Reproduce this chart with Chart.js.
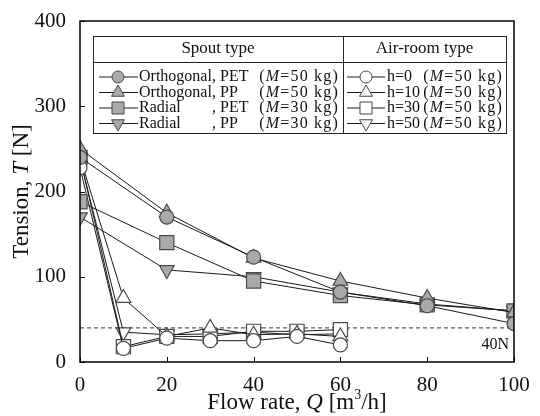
<!DOCTYPE html>
<html><head><meta charset="utf-8">
<script src="https://cdn.jsdelivr.net/npm/chart.js@4.4.0/dist/chart.umd.min.js"></script>
<style>html,body{margin:0;padding:0;background:#fff;}#wrap{width:540px;height:416px;}</style>
</head><body><div id="wrap"><canvas id="c" width="540" height="416"></canvas></div>
<script>
// ---- data ----
const spoutX = [0, 20, 40, 60, 80, 100];
const orthPET = [240, 170, 123, 82, 66, 45];
const orthPP  = [250, 175, 122, 95, 75, 58];
const radPET  = [188, 140, 95, 78, 67, 60];
const radPP   = [170, 108, 100, 82, 68, 60];
const airX = [0, 10, 20, 30, 40, 50, 60];
const h0  = [228, 16, 28, 25, 25, 30, 20];
const h10 = [240, 75, 30, 40, 32, 33, 30];
const h30 = [240, 18, 30, 30, 36, 36, 38];
const h50 = [238, 35, 32, 33, 35, 32, 33];
const xTicks = [0, 20, 40, 60, 80, 100];
const yTicks = [0, 100, 200, 300, 400];
const refLevel = 40;
const refLabel = '40N';
const spoutNames = ['Orthogonal', 'Orthogonal', 'Radial', 'Radial'];
const spoutMats = [', PET', ', PP', ', PET', ', PP'];
const spoutMass = ['50 kg', '50 kg', '30 kg', '30 kg'];
const airNames = ['h=0', 'h=10', 'h=30', 'h=50'];
const airMass = ['50 kg', '50 kg', '50 kg', '50 kg'];
const headers = ['Spout type', 'Air-room type'];

const SERIF = '"Liberation Serif", "DejaVu Serif", serif';
const FILL = '#a9a9a9', EDGE = '#4a4a4a', LINE = '#1a1a1a';
const styles = [
  {pointStyle: 'circle', radius: 7, rotation: 0},
  {pointStyle: 'triangle', radius: 8.5, rotation: 0},
  {pointStyle: 'rect', radius: 10, rotation: 0},
  {pointStyle: 'triangle', radius: 8.5, rotation: 180}
];
function pts(xs, ys) { return xs.map((x, i) => ({x: x, y: ys[i]})); }
function ds(xs, ys, st, filled) {
  return {
    data: pts(xs, ys), borderColor: LINE, borderWidth: 1,
    pointStyle: st.pointStyle, pointRadius: st.radius, pointRotation: st.rotation,
    pointBackgroundColor: filled ? FILL : '#ffffff', pointBorderColor: EDGE, pointBorderWidth: 1.2,
    pointHoverRadius: st.radius, tension: 0, fill: false
  };
}
const datasets = [
  ds(spoutX, orthPET, styles[0], true),
  ds(spoutX, orthPP, styles[1], true),
  ds(spoutX, radPET, styles[2], true),
  ds(spoutX, radPP, styles[3], true),
  ds(airX, h0, styles[0], false),
  ds(airX, h10, styles[1], false),
  ds(airX, h30, styles[2], false),
  ds(airX, h50, styles[3], false),
  {data: [{x: xTicks[0], y: refLevel}, {x: xTicks[xTicks.length - 1], y: refLevel}], borderColor: '#333',
   borderWidth: 1, borderDash: [4, 3], pointRadius: 0, fill: false}
];

function drawRuns(ctx, runs, cx, cy) {
  let total = 0;
  runs.forEach(r => { ctx.font = r.font; r.w = ctx.measureText(r.t).width; total += r.w; });
  let x = cx - total / 2;
  ctx.textAlign = 'left';
  runs.forEach(r => { ctx.font = r.font; ctx.textBaseline = 'middle'; ctx.fillText(r.t, x, cy + (r.dy || 0)); x += r.w; });
}
function drawRunsLeft(ctx, runs, x, cy) {
  ctx.textAlign = 'left'; ctx.textBaseline = 'middle';
  runs.forEach(r => { ctx.font = r.font; ctx.fillText(r.t, x, cy); x += ctx.measureText(r.t).width; });
  return x;
}
function runsWidth(ctx, runs) {
  let w = 0; runs.forEach(r => { ctx.font = r.font; w += ctx.measureText(r.t).width; }); return w;
}

const decor = {
  id: 'decor',
  afterDraw(chart) {
    const ctx = chart.ctx, a = chart.chartArea, xs = chart.scales.x, ys = chart.scales.y;
    ctx.save();
    ctx.strokeStyle = '#000'; ctx.lineWidth = 1.5;
    ctx.strokeRect(a.left, a.top, a.right - a.left, a.bottom - a.top);
    ctx.lineWidth = 1;
    ctx.beginPath();
    xTicks.forEach(v => { const p = Math.round(xs.getPixelForValue(v)) + 0.5; ctx.moveTo(p, a.bottom); ctx.lineTo(p, a.bottom - 5); });
    yTicks.forEach(v => { const p = Math.round(ys.getPixelForValue(v)) + 0.5; ctx.moveTo(a.left, p); ctx.lineTo(a.left + 5, p); });
    ctx.stroke();
    ctx.fillStyle = '#111';
    // 40N label
    ctx.font = '16px ' + SERIF; ctx.textAlign = 'right'; ctx.textBaseline = 'middle';
    ctx.fillText(refLabel, a.right - 5, ys.getPixelForValue(refLevel) + 17);
    // axis titles
    const F = '23px ' + SERIF, FI = 'italic 23px ' + SERIF;
    drawRuns(ctx, [{t: 'Flow rate, ', font: F}, {t: 'Q', font: FI}, {t: ' [m', font: F}, {t: '3', font: '14px ' + SERIF, dy: -8}, {t: '/h]', font: F}],
      (a.left + a.right) / 2, 403);
    ctx.save();
    ctx.translate(22, (a.top + a.bottom) / 2); ctx.rotate(-Math.PI / 2);
    drawRuns(ctx, [{t: 'Tension, ', font: F}, {t: 'T', font: FI}, {t: ' [N]', font: F}], 0, 0);
    ctx.restore();
    // legend table
    const L = 93, R = 506, T = 36, B = 133, D = 343, H = 62;
    ctx.fillStyle = '#fff'; ctx.fillRect(L, T, R - L, B - T);
    ctx.strokeStyle = '#222'; ctx.lineWidth = 1;
    ctx.strokeRect(L + 0.5, T + 0.5, R - L, B - T);
    ctx.beginPath(); ctx.moveTo(L, H + 0.5); ctx.lineTo(R, H + 0.5); ctx.moveTo(D + 0.5, T); ctx.lineTo(D + 0.5, B); ctx.stroke();
    ctx.fillStyle = '#111';
    ctx.font = '17px ' + SERIF; ctx.textAlign = 'center'; ctx.textBaseline = 'middle';
    ctx.fillText(headers[0], (L + D) / 2, 49);
    ctx.fillText(headers[1], (D + R) / 2, 49);
    const LF = '16px ' + SERIF, LFI = 'italic 16px ' + SERIF;
    const legStyles = [
      {pointStyle: 'circle', radius: 6, rotation: 0, borderWidth: 1},
      {pointStyle: 'triangle', radius: 7.5, rotation: 0, borderWidth: 1},
      {pointStyle: 'rect', radius: 8.5, rotation: 0, borderWidth: 1},
      {pointStyle: 'triangle', radius: 7.5, rotation: 180, borderWidth: 1}
    ];
    for (let i = 0; i < 4; i++) {
      const y = 77 + i * 15.5;
      // spout column
      ctx.strokeStyle = LINE; ctx.lineWidth = 1;
      ctx.beginPath(); ctx.moveTo(99, y); ctx.lineTo(138, y); ctx.stroke();
      ctx.fillStyle = FILL; ctx.strokeStyle = EDGE;
      Chart.helpers.drawPoint(ctx, legStyles[i], 118, y);
      ctx.fillStyle = '#111';
      ctx.letterSpacing = '0px';
      drawRunsLeft(ctx, [{t: spoutNames[i], font: LF}], 139, y);
      drawRunsLeft(ctx, [{t: spoutMats[i], font: LF}], 212, y);
      ctx.letterSpacing = '1.2px';
      const mr = [{t: '(', font: LF}, {t: 'M', font: LFI}, {t: '=' + spoutMass[i] + ')', font: LF}];
      drawRunsLeft(ctx, mr, 339 - runsWidth(ctx, mr), y);
      ctx.letterSpacing = '0px';
      // air column
      ctx.strokeStyle = LINE;
      ctx.beginPath(); ctx.moveTo(347, y); ctx.lineTo(385, y); ctx.stroke();
      ctx.fillStyle = '#fff'; ctx.strokeStyle = EDGE;
      Chart.helpers.drawPoint(ctx, legStyles[i], 366, y);
      ctx.fillStyle = '#111';
      drawRunsLeft(ctx, [{t: airNames[i], font: LF}], 387, y);
      ctx.letterSpacing = '1.2px';
      const ar = [{t: '(', font: LF}, {t: 'M', font: LFI}, {t: '=' + airMass[i] + ')', font: LF}];
      drawRunsLeft(ctx, ar, 503 - runsWidth(ctx, ar), y);
      ctx.letterSpacing = '0px';
    }
    ctx.restore();
  }
};

new Chart(document.getElementById('c'), {
  type: 'line',
  data: {datasets: datasets},
  options: {
    responsive: false, animation: false, devicePixelRatio: 1,
    layout: {padding: {top: 21, right: 26, left: 0, bottom: 0}},
    plugins: {legend: {display: false}, tooltip: {enabled: false}},
    scales: {
      x: {type: 'linear', min: 0, max: 100,
          afterBuildTicks: s => { s.ticks = xTicks.map(v => ({value: v})); },
          afterFit: s => { s.height = 54; },
          grid: {display: false}, border: {display: false},
          ticks: {font: {family: SERIF, size: 21}, color: '#111', padding: 3, maxRotation: 0, autoSkip: false}},
      y: {type: 'linear', min: 0, max: 400,
          afterBuildTicks: s => { s.ticks = yTicks.map(v => ({value: v})); },
          afterFit: s => { s.width = 80; },
          grid: {display: false}, border: {display: false},
          ticks: {font: {family: SERIF, size: 21}, color: '#111', padding: 6}}
    }
  },
  plugins: [decor]
});
</script></body></html>
